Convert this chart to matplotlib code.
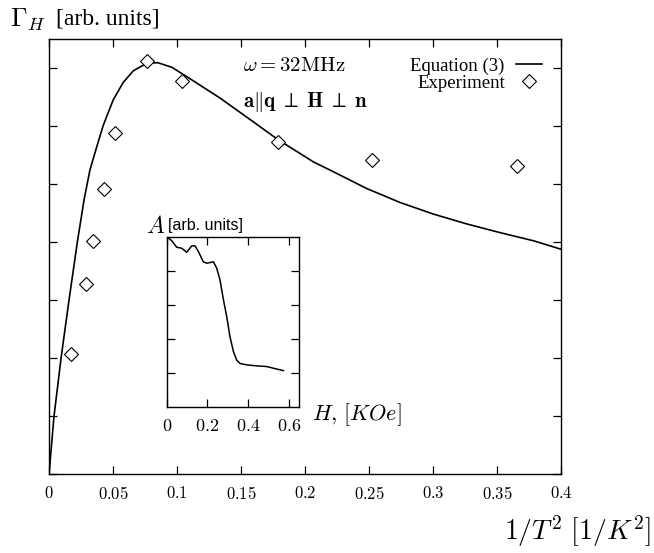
import numpy as np
import matplotlib
matplotlib.use("Agg")
import matplotlib.pyplot as plt

plt.rcParams['font.family'] = ['Liberation Serif', 'DejaVu Serif']
plt.rcParams['mathtext.fontset'] = 'cm'

# main panel: Equation (3) curve
eq_x = [0.0, 0.0039, 0.0094, 0.0156, 0.0221, 0.0275, 0.0320, 0.0373, 0.0424, 0.0502,
        0.0580, 0.0659, 0.0763, 0.0850, 0.0960, 0.1076, 0.1336, 0.1596, 0.1791, 0.2065,
        0.2221, 0.2482, 0.2742, 0.3002, 0.3263, 0.3523, 0.3784, 0.4005]
eq_y = [0.0, 1.0, 2.0, 3.0, 4.0, 4.75, 5.25, 5.65, 6.02, 6.46,
        6.76, 6.96, 7.09, 7.10, 7.02, 6.86, 6.49, 6.08, 5.77, 5.39,
        5.22, 4.93, 4.69, 4.49, 4.32, 4.17, 4.03, 3.88]

# experiment points
exp_x = [0.0172, 0.0289, 0.0346, 0.0427, 0.0516, 0.0768, 0.1041, 0.1791, 0.2521, 0.3654]
exp_y = [2.07, 3.28, 4.03, 4.92, 5.88, 7.13, 6.78, 5.73, 5.42, 5.32]

x_ticks = [0, 0.05, 0.1, 0.15, 0.2, 0.25, 0.3, 0.35, 0.4]
x_labels = ['0', '0.05', '0.1', '0.15', '0.2', '0.25', '0.3', '0.35', '0.4']

# inset: A vs H
h_vals = [0.0, 0.025, 0.049, 0.074, 0.098, 0.123, 0.139, 0.156, 0.18, 0.197, 0.213,
          0.23, 0.246, 0.262, 0.279, 0.295, 0.311, 0.328, 0.344, 0.361, 0.393,
          0.443, 0.492, 0.525, 0.574]
a_vals = [5.0, 4.88, 4.69, 4.66, 4.54, 4.73, 4.73, 4.56, 4.26, 4.22, 4.24,
          4.26, 4.07, 3.73, 3.14, 2.65, 2.06, 1.62, 1.37, 1.27, 1.23,
          1.20, 1.18, 1.13, 1.06]
h_ticks = [0, 0.2, 0.4, 0.6]
h_labels = ['0', '0.2', '0.4', '0.6']

fig = plt.figure(figsize=(6.54, 5.53), dpi=100)
ax = fig.add_axes([0.0749, 0.142, 0.783, 0.7866])
ax.plot(eq_x, eq_y, color='black', lw=1.2, label='Equation (3)')
ax.plot(exp_x, exp_y, linestyle='none', marker='D', ms=7.5, mfc='white',
        mec='black', mew=0.8, label='Experiment')
ax.set_xlim(0, 0.4)
ax.set_ylim(0, 7.5)
ax.set_xticks(x_ticks)
ax.set_xticklabels(['$%s$' % s for s in x_labels], fontsize=12)
ax.set_yticks(range(8))
ax.set_yticklabels([])
ax.tick_params(direction='in', length=6, width=0.9, top=True, right=True, pad=8)
for sp in ax.spines.values():
    sp.set_linewidth(1.0)

leg = ax.legend(loc='upper right', bbox_to_anchor=(1.0, 1.002), frameon=False,
                markerfirst=False, fontsize=13.5, handlelength=1.4,
                handletextpad=0.6, labelspacing=0.0, borderaxespad=0.6)

ax.text(0.378, 0.928, r'$\omega = 32\mathrm{MHz}$', transform=ax.transAxes, fontsize=15)
ax.text(0.378, 0.845, r'$\mathbf{a}\Vert\mathbf{q}\;\perp\;\mathbf{H}\;\perp\;\mathbf{n}$',
        transform=ax.transAxes, fontsize=15)

fig.text(0.015, 0.965, r'$\Gamma_H$', fontsize=19, va='center')
fig.text(0.086, 0.965, '[arb. units]', fontsize=17, va='center')
fig.text(0.995, 0.04, r'$1/T^2\ [1/K^2]$', fontsize=20, ha='right', va='center')

ins = fig.add_axes([0.2549, 0.2646, 0.2028, 0.3074])
ins.plot(h_vals, a_vals, color='black', lw=1.1)
ins.set_xlim(0, 0.652)
ins.set_ylim(0, 5)
ins.set_xticks(h_ticks)
ins.set_xticklabels(['$%s$' % s for s in h_labels], fontsize=13)
ins.set_yticks([1, 2, 3, 4])
ins.set_yticklabels([])
ins.tick_params(direction='in', length=6, width=0.9, top=True, right=True, pad=8)
for sp in ins.spines.values():
    sp.set_linewidth(1.0)

fig.text(0.224, 0.590, r'$A$', fontsize=17, va='center')
fig.text(0.257, 0.592, '[arb. units]', fontsize=11.5, va='center', family='Liberation Sans')
fig.text(0.477, 0.251, r'$H,\,[KOe]$', fontsize=16, va='center')

fig.savefig('out.png', dpi=100)
